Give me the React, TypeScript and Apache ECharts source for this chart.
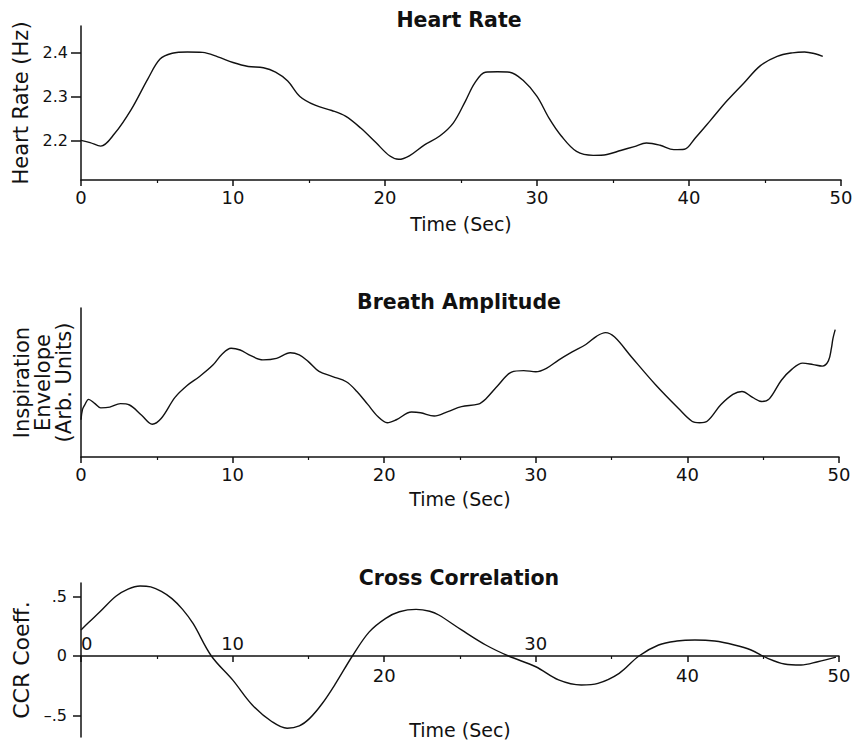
import React, { useEffect, useRef } from "react";
import * as echarts from "echarts";

// Heart rate (Hz) over time (s)
const hrTime = [0, 0.6, 1.3, 2.2, 3.3, 4.4, 5.2, 6.0, 7.0, 8.0, 9.0, 10.0, 11.0, 12.0, 12.8, 13.6, 14.4, 15.4, 16.5, 17.4, 18.4, 19.4, 20.3, 20.9, 21.6, 22.6, 23.6, 24.5, 25.3, 25.9, 26.6, 27.4, 28.2, 29.1, 30.0, 30.8, 31.6, 32.6, 33.7, 34.6, 35.5, 36.4, 37.2, 38.1, 39.0, 39.7, 40.4, 41.4, 42.5, 43.6, 44.7, 45.8, 46.8, 47.6, 48.3, 48.8];
const hrValue = [2.2, 2.195, 2.187, 2.215, 2.27, 2.34, 2.385, 2.398, 2.401, 2.4, 2.39, 2.377, 2.368, 2.365, 2.355, 2.335, 2.3, 2.28, 2.268, 2.255, 2.228, 2.195, 2.165, 2.157, 2.165, 2.19, 2.21, 2.24, 2.29, 2.33, 2.355, 2.356, 2.355, 2.336, 2.3, 2.25, 2.21, 2.175, 2.166, 2.168, 2.177, 2.186, 2.194, 2.189, 2.179, 2.18, 2.205, 2.245, 2.29, 2.33, 2.37, 2.391, 2.399, 2.401, 2.397, 2.391];

// Inspiration envelope (arbitrary units)
const brTime = [0, 0.1, 0.25, 0.5, 0.9, 1.3, 1.9, 2.6, 3.2, 4.0, 4.7, 5.3, 6.2, 7.0, 7.8, 8.7, 9.3, 9.9, 10.5, 11.2, 12.0, 12.9, 13.8, 14.4, 15.0, 15.7, 16.6, 17.5, 18.2, 18.9, 19.6, 20.2, 20.8, 21.8, 22.4, 23.3, 24.2, 25.1, 26.2, 26.7, 27.5, 28.4, 29.2, 30.0, 30.7, 31.5, 32.4, 33.3, 34.0, 34.6, 35.2, 36.3, 37.9, 39.4, 40.3, 40.8, 41.3, 42.2, 43.0, 43.6, 44.3, 44.9, 45.4, 46.2, 46.9, 47.6, 48.3, 48.9, 49.3, 49.5, 49.6, 49.75];
const brValue = [2.5, 3.2, 3.5, 3.87, 3.6, 3.3, 3.35, 3.58, 3.49, 2.8, 2.2, 2.6, 4.0, 4.8, 5.39, 6.17, 6.9, 7.3, 7.18, 6.8, 6.52, 6.62, 7.0, 6.85, 6.4, 5.75, 5.4, 5.05, 4.4, 3.55, 2.7, 2.3, 2.5, 3.02, 2.97, 2.75, 3.05, 3.38, 3.55, 3.9, 4.8, 5.7, 5.8, 5.72, 5.95, 6.5, 7.05, 7.55, 8.1, 8.35, 8.05, 6.73, 4.85, 3.27, 2.4, 2.3, 2.4, 3.5, 4.2, 4.4, 4.0, 3.72, 3.9, 5.15, 5.9, 6.3, 6.2, 6.1, 6.45, 7.3, 7.95, 8.55];

// Cross correlation coefficient vs lag (s)
const ccrTime = [0, 0.5, 1.25, 2.3, 3.1, 3.9, 4.6, 5.3, 6.0, 6.7, 7.4, 8.6, 10.0, 11.3, 12.6, 13.6, 14.4, 15.1, 15.9, 16.8, 17.9, 19.0, 20.1, 21.0, 22.1, 23.0, 23.6, 25.1, 26.7, 28.2, 30.0, 31.5, 33.0, 34.1, 35.5, 36.8, 38.1, 39.3, 40.5, 41.8, 43.1, 44.2, 45.3, 46.4, 47.5, 48.6, 49.8];
const ccrValue = [0.218, 0.28, 0.37, 0.5, 0.56, 0.586, 0.578, 0.54, 0.48, 0.39, 0.27, 0.0, -0.2, -0.41, -0.55, -0.605, -0.585, -0.52, -0.4, -0.229, 0.0, 0.2, 0.315, 0.37, 0.39, 0.375, 0.343, 0.218, 0.092, 0.0, -0.09, -0.2, -0.243, -0.229, -0.145, 0.0, 0.092, 0.125, 0.134, 0.125, 0.092, 0.05, -0.02, -0.067, -0.075, -0.048, -0.01];

// Axis ranges, ticks and labels
const hrRange = [2.11, 2.46];
const hrTicks = [2.2, 2.3, 2.4];
const ccrRange = [-0.678, 0.611];
const ccrTicks = [-0.5, 0, 0.5];
const ccrTickText = ["\u2013.5", "0", ".5"];
const ccrLabelsAbove = [0, 10, 30];
const ccrLabelsBelow = [20, 40, 50];

const titles = ["Heart Rate", "Breath Amplitude", "Cross Correlation"];
const titleY = [20, 302, 578];

const FONT = "DejaVu Sans";
const INK = "#111";

const CCR_GRID = { left: 81, top: 583, width: 758, height: 154 };
// the lag axis sits on the zero line of the coefficient axis
const ccrZeroOffset = -CCR_GRID.height * (0 - ccrRange[0]) / (ccrRange[1] - ccrRange[0]);

const pairs = (t: number[], v: number[]) => t.map((x, i) => [x, v[i]]);

const lineStyle = { color: INK, width: 1.5 };

function timeAxis(gridIndex: number, extra: any = {}) {
  return {
    type: "value",
    gridIndex,
    min: 0,
    max: 50,
    interval: 10,
    position: "bottom",
    axisLine: { onZero: false, lineStyle },
    axisTick: { length: 6, lineStyle },
    minorTick: { show: true, splitNumber: 2, length: 3, lineStyle: { color: INK, width: 1.2 } },
    axisLabel: { color: INK, fontFamily: FONT, fontSize: 18, margin: 8 },
    splitLine: { show: false },
    minorSplitLine: { show: false },
    name: "Time (Sec)",
    nameLocation: "middle",
    nameGap: 34,
    nameTextStyle: { color: INK, fontFamily: FONT, fontSize: 19 },
    ...extra,
  };
}

const yName = { color: INK, fontFamily: FONT, fontSize: 21, lineHeight: 21 };

function series(xi: number, t: number[], v: number[]) {
  return {
    type: "line",
    xAxisIndex: xi,
    yAxisIndex: xi,
    data: pairs(t, v),
    showSymbol: false,
    smooth: 0.35,
    lineStyle: { color: INK, width: 1.4 },
    silent: true,
  };
}

export default function App() {
  const ref = useRef<HTMLDivElement>(null);

  useEffect(() => {
    if (!ref.current) return;
    const chart = echarts.init(ref.current, null, { renderer: "svg" });
    chart.setOption({
      animation: false,
      backgroundColor: "#fff",
      grid: [
        { left: 81, top: 26, width: 760, height: 154, outerBoundsMode: "none", containLabel: false },
        { left: 81, top: 308, width: 758, height: 149, outerBoundsMode: "none", containLabel: false },
        { ...CCR_GRID, outerBoundsMode: "none", containLabel: false },
      ],
      xAxis: [
        timeAxis(0),
        timeAxis(1, { nameGap: 32 }),
        timeAxis(2, {
          offset: ccrZeroOffset,
          axisLabel: {
            color: INK,
            fontFamily: FONT,
            fontSize: 18,
            inside: true,
            margin: 3,
            alignMinLabel: "left",
            formatter: (v: number) => (ccrLabelsAbove.includes(v) ? String(v) : ""),
          },
          name: "",
        }),
        timeAxis(2, {
          offset: ccrZeroOffset,
          axisLine: { show: false, onZero: false },
          axisTick: { show: false },
          minorTick: { show: false },
          axisLabel: {
            color: INK,
            fontFamily: FONT,
            fontSize: 18,
            margin: 11,
            formatter: (v: number) => (ccrLabelsBelow.includes(v) ? String(v) : ""),
          },
          nameGap: 65,
        }),
      ],
      yAxis: [
        {
          type: "value",
          gridIndex: 0,
          min: hrRange[0],
          max: hrRange[1],
          axisLine: { show: true, onZero: false, lineStyle },
          axisTick: { show: true, length: 10, customValues: hrTicks, lineStyle },
          axisLabel: {
            color: INK,
            fontFamily: FONT,
            fontSize: 16,
            margin: 13,
            customValues: hrTicks,
            formatter: (v: number) => v.toFixed(1),
          },
          splitLine: { show: false },
          name: "Heart Rate (Hz)",
          nameLocation: "middle",
          nameRotate: 90,
          nameGap: 47,
          nameTextStyle: yName,
        },
        {
          type: "value",
          gridIndex: 1,
          min: 0,
          max: 10,
          axisLine: { show: true, onZero: false, lineStyle },
          axisTick: { show: false },
          axisLabel: { show: false },
          splitLine: { show: false },
          name: "Inspiration\nEnvelope\n(Arb. Units)",
          nameLocation: "middle",
          nameRotate: 90,
          nameGap: 7,
          nameTextStyle: yName,
        },
        {
          type: "value",
          gridIndex: 2,
          min: ccrRange[0],
          max: ccrRange[1],
          axisLine: { show: true, onZero: false, lineStyle },
          axisTick: { show: true, length: 8, customValues: ccrTicks, lineStyle },
          axisLabel: {
            color: INK,
            fontFamily: FONT,
            fontSize: 16,
            margin: 14,
            customValues: ccrTicks,
            formatter: (v: number) => {
              const i = ccrTicks.findIndex((c) => Math.abs(c - v) < 1e-6);
              return i >= 0 ? ccrTickText[i] : "";
            },
          },
          splitLine: { show: false },
          name: "CCR Coeff.",
          nameLocation: "middle",
          nameRotate: 90,
          nameGap: 49,
          nameTextStyle: { ...yName, fontSize: 22 },
        },
      ],
      graphic: titles.map((text, i) => ({
        type: "text",
        x: 459,
        y: titleY[i],
        silent: true,
        style: {
          text,
          fill: INK,
          fontFamily: FONT,
          fontSize: 20.5,
          fontWeight: "bold",
          align: "center",
          verticalAlign: "middle",
        },
      })),
      series: [
        series(0, hrTime, hrValue),
        series(1, brTime, brValue),
        series(2, ccrTime, ccrValue),
      ],
    });
    return () => chart.dispose();
  }, []);

  return (
    <div
      ref={ref}
      style={{ position: "absolute", left: 0, top: 0, width: 853, height: 742 }}
    />
  );
}
